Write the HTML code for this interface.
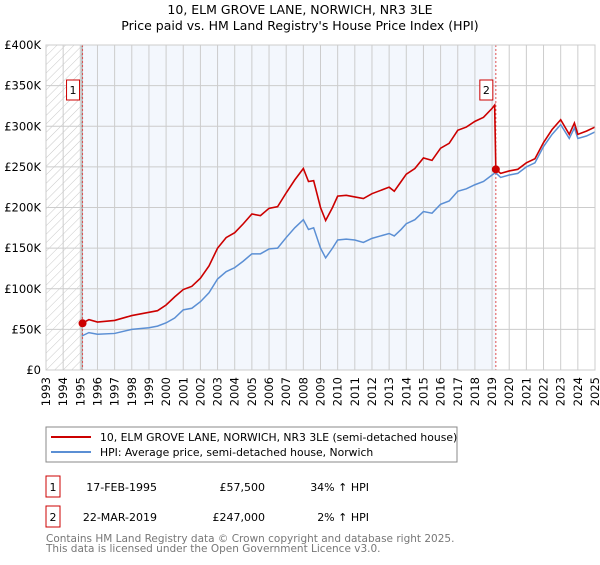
<!DOCTYPE html>
<html><head><meta charset="utf-8"><style>
body{margin:0;background:#fff;font-family:"Liberation Sans","DejaVu Sans",sans-serif;}
svg text{font-family:"DejaVu Sans","Liberation Sans",sans-serif;}
</style></head><body>
<svg id="c" width="600" height="560" xmlns="http://www.w3.org/2000/svg">
<defs><pattern id="h" width="6" height="6" patternUnits="userSpaceOnUse" patternTransform="rotate(45)"><line x1="0" y1="0" x2="0" y2="6" stroke="#bbb" stroke-width="0.8"/></pattern></defs>
<text x="300" y="14" text-anchor="middle" font-size="12.5" fill="#000">10, ELM GROVE LANE, NORWICH, NR3 3LE</text>
<text x="300" y="30" text-anchor="middle" font-size="12.5" fill="#000">Price paid vs. HM Land Registry's House Price Index (HPI)</text>
<g id="plot"></g>
<rect x="46" y="427" width="411" height="35" fill="#fff" stroke="#888"/>
<line x1="51" y1="437" x2="91" y2="437" stroke="#cc0000" stroke-width="2"/>
<text x="100" y="441" font-size="10.8">10, ELM GROVE LANE, NORWICH, NR3 3LE (semi-detached house)</text>
<line x1="51" y1="452" x2="91" y2="452" stroke="#5b8fd4" stroke-width="2"/>
<text x="100" y="456" font-size="10.8">HPI: Average price, semi-detached house, Norwich</text>
<rect x="46" y="476" width="14" height="21" fill="#fff" stroke="#cc0000"/>
<text x="53" y="491" font-size="11" text-anchor="middle">1</text>
<text x="157" y="491" font-size="11" text-anchor="end">17-FEB-1995</text>
<text x="265" y="491" font-size="11" text-anchor="end">£57,500</text>
<text x="369" y="491" font-size="11" text-anchor="end">34% ↑ HPI</text>
<rect x="46" y="506" width="14" height="21" fill="#fff" stroke="#cc0000"/>
<text x="53" y="521" font-size="11" text-anchor="middle">2</text>
<text x="157" y="521" font-size="11" text-anchor="end">22-MAR-2019</text>
<text x="265" y="521" font-size="11" text-anchor="end">£247,000</text>
<text x="369" y="521" font-size="11" text-anchor="end">2% ↑ HPI</text>
<text x="46" y="542" font-size="10.5" fill="#777">Contains HM Land Registry data © Crown copyright and database right 2025.</text>
<text x="46" y="552" font-size="10.5" fill="#777">This data is licensed under the Open Government Licence v3.0.</text>
</svg>
<script>
const hpiYears=[1995.1,1995.5,1996,1997,1998,1999,1999.5,2000,2000.5,2001,2001.5,2002,2002.5,2003,2003.5,2004,2004.5,2005,2005.5,2006,2006.5,2007,2007.5,2008,2008.3,2008.6,2009,2009.3,2009.7,2010,2010.5,2011,2011.5,2012,2012.5,2013,2013.3,2013.7,2014,2014.5,2015,2015.5,2016,2016.5,2017,2017.5,2018,2018.5,2019,2019.2,2019.5,2020,2020.5,2021,2021.5,2022,2022.5,2023,2023.5,2023.8,2024,2024.5,2025];
const hpiValues=[42,46,44,45,50,52,54,58,64,74,76,84,95,112,121,126,134,143,143,149,150,163,175,185,173,175,150,138,150,160,161,160,157,162,165,168,165,173,180,185,195,193,204,208,220,223,228,232,240,243,237,240,242,250,255,275,290,302,285,298,285,288,293];
const priceYears=[1995.1,1995.5,1996,1997,1998,1999,1999.5,2000,2000.5,2001,2001.5,2002,2002.5,2003,2003.5,2004,2004.5,2005,2005.5,2006,2006.5,2007,2007.5,2008,2008.3,2008.6,2009,2009.3,2009.7,2010,2010.5,2011,2011.5,2012,2012.5,2013,2013.3,2013.7,2014,2014.5,2015,2015.5,2016,2016.5,2017,2017.5,2018,2018.5,2019,2019.15,2019.22,2019.5,2020,2020.5,2021,2021.5,2022,2022.5,2023,2023.5,2023.8,2024,2024.5,2025];
const priceValues=[57.5,62,59,61,67,71,73,80,90,99,103,113,128,150,163,169,180,192,190,199,201,218,234,248,232,233,200,184,200,214,215,213,211,217,221,225,220,232,241,248,261,258,273,279,295,299,306,311,322,326,247,242,245,247,255,260,280,296,308,290,304,290,294,299];
const saleYears=[1995.13,2019.22];
const saleValues=[57.5,247];
const yTicks=[0,50,100,150,200,250,300,350,400];
const yTickLabels=["£0","£50K","£100K","£150K","£200K","£250K","£300K","£350K","£400K"];
const xTicks=[1993,1994,1995,1996,1997,1998,1999,2000,2001,2002,2003,2004,2005,2006,2007,2008,2009,2010,2011,2012,2013,2014,2015,2016,2017,2018,2019,2020,2021,2022,2023,2024,2025];

const L=46,R=595,T=45,B=370;
const X=y=>L+(y-1993)/(2025-1993)*(R-L);
const Y=v=>B-v/400*(B-T);
const NS="http://www.w3.org/2000/svg";
const g=document.getElementById('plot');
function mk(tag,a,p){const e=document.createElementNS(NS,tag);for(const k in a)e.setAttribute(k,a[k]);(p||g).appendChild(e);return e;}
let e;
e=mk('rect',{x:X(saleYears[0]),y:T,width:X(saleYears[1])-X(saleYears[0]),height:B-T,fill:'#eef3fc',opacity:0.7});


e=mk('rect',{x:L,y:T,width:X(1995.1)-L,height:B-T,fill:'url(#h)'});


xTicks.forEach(t=>{mk('line',{x1:X(t),x2:X(t),y1:T,y2:B,stroke:'#ccc','stroke-width':1});
 e=mk('text',{x:0,y:0,'font-size':11.5,'text-anchor':'end',transform:`translate(${X(t)+4},${B+7}) rotate(-90)`});e.textContent=t;
 
 });
yTicks.forEach((t,i)=>{mk('line',{x1:L,x2:R,y1:Y(t),y2:Y(t),stroke:'#ccc','stroke-width':1});
 e=mk('text',{x:L-5,y:Y(t)+4,'font-size':11.5,'text-anchor':'end'});e.textContent=yTickLabels[i];
 
 });
mk('line',{x1:X(1995.1),x2:X(1995.1),y1:T,y2:B,stroke:'#888','stroke-width':1});
saleYears.forEach(s=>{e=mk('line',{x1:X(s),x2:X(s),y1:T,y2:B,stroke:'#e05050','stroke-width':1,'stroke-dasharray':'2,2'});
 
 });
e=mk('polyline',{points:hpiYears.map((y,i)=>X(y)+','+Y(hpiValues[i])).join(' '),fill:'none',stroke:'#5b8fd4','stroke-width':1.5});


e=mk('polyline',{points:priceYears.map((y,i)=>X(y)+','+Y(priceValues[i])).join(' '),fill:'none',stroke:'#cc0000','stroke-width':1.6});


saleYears.forEach((s,i)=>{e=mk('circle',{cx:X(s),cy:Y(saleValues[i]),r:4,fill:'#cc0000'});
 
 
 const bx=X(s)-(i==0?3:3)-13;
 e=mk('rect',{x:bx,y:80,width:13,height:20,fill:'#fff',stroke:'#cc0000'});
 
 
 e=mk('text',{x:bx+6.5,y:94,'font-size':11,'text-anchor':'middle'});e.textContent=String(i+1);});
e=mk('rect',{x:L,y:T,width:R-L,height:B-T,fill:'none',stroke:'#ccc'});
</script>
</body></html>
